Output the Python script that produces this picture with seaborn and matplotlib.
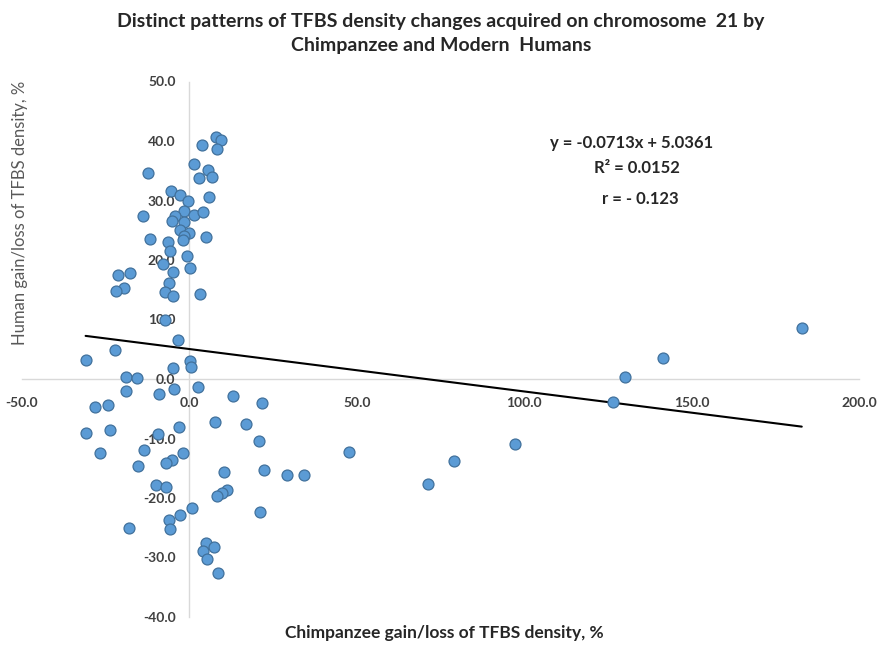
import matplotlib
matplotlib.use("Agg")
import matplotlib.pyplot as plt
import seaborn as sns
import numpy as np
import pandas as pd

# ---- data ----
chimp = [7.8, 9.3, 8.1, 3.8, -12.4, 1.5, 5.5, 6.8, 2.9, 5.8,
         -5.4, -2.9, -0.5, -13.9, -1.7, -4.4, 1.3, 4.0, -5.1, -1.5,
         -2.7, -0.2, -1.5, 4.9, -11.8, -6.5, -1.9, -5.7, -0.6, -7.9,
         0.3, -4.9, -21.4, -17.8, -6.2, -19.6, -21.9, -7.4, -4.9, 3.3,
         -7.4, -3.4, -22.3, -31.0, 0.3, 0.6, -4.9, -18.9, -15.6, 2.5,
         -4.7, -18.9, -9.0, 12.9, -28.1, -24.3, 7.5, -3.2, -31.0, -23.6,
         -9.3, -26.6, -13.6, -1.9, -5.2, -7.1, -15.3, 10.4, -9.9, -6.9,
         11.2, 9.6, 8.3, 0.8, -2.7, -6.2, -18.1, -5.7, 5.1, 7.3,
         4.1, 5.3, 8.6, 21.7, 17.0, 20.9, 47.6, 22.2, 29.2, 34.3,
         21.2, 182.9, 141.6, 130.1, 126.4, 97.3, 78.9, 71.2]
human = [40.6, 40.2, 38.7, 39.4, 34.6, 36.1, 35.1, 33.9, 33.7, 30.6,
         31.6, 30.9, 29.9, 27.4, 28.2, 27.4, 27.6, 28.0, 26.6, 26.4,
         25.0, 24.5, 24.0, 23.9, 23.5, 23.1, 23.3, 21.5, 20.7, 19.3,
         18.6, 18.0, 17.5, 17.8, 16.2, 15.3, 14.8, 14.6, 13.9, 14.3,
         10.0, 6.6, 4.9, 3.2, 3.0, 2.1, 1.8, 0.4, 0.1, -1.3,
         -1.7, -2.0, -2.5, -2.8, -4.7, -4.4, -7.3, -8.0, -9.0, -8.6,
         -9.3, -12.4, -12.0, -12.4, -13.6, -14.1, -14.6, -15.7, -17.8, -18.1,
         -18.7, -19.1, -19.7, -21.7, -22.9, -23.7, -25.0, -25.2, -27.5, -28.3,
         -28.9, -30.3, -32.6, -4.0, -7.6, -10.5, -12.2, -15.3, -16.1, -16.1,
         -22.4, 8.6, 3.6, 0.4, -3.8, -10.9, -13.8, -17.6]

slope = -0.0713
intercept = 5.0361
x_ticks = [-50, 0, 50, 100, 150, 200]
y_ticks = [-40, -30, -20, -10, 0, 10, 20, 30, 40, 50]

title = ("Distinct patterns of TFBS density changes acquired on chromosome  21 by\n"
         "Chimpanzee and Modern  Humans")
xlabel = "Chimpanzee gain/loss of TFBS density, %"
ylabel = "Human gain/loss of TFBS density, %"
eq_lines = ["y = -0.0713x + 5.0361", "R\u00b2 = 0.0152", "r = - 0.123"]

# ---- plot ----
sns.set_theme(style="white")
plt.rcParams["font.family"] = ["Lato", "DejaVu Sans"]

df = pd.DataFrame({"chimp": chimp, "human": human})

W, H = 882, 646
fig = plt.figure(figsize=(W / 100, H / 100), dpi=100)
ax = fig.add_axes([22 / W, 1 - 617 / H, (859 - 22) / W, (617 - 81.5) / H])

# trend line
xl = np.array([min(chimp), max(chimp)])
ax.plot(xl, slope * xl + intercept, color="black", lw=1.5, zorder=4)

sns.scatterplot(data=df, x="chimp", y="human", ax=ax, s=62,
                color="#5B9BD5", edgecolor="#41719C", linewidth=0.9, zorder=5)

ax.set_xlim(-50, 200)
ax.set_ylim(-40, 50)
ax.set_xticks(x_ticks)
ax.set_yticks(y_ticks)
ax.set_xticklabels([f"{v:.1f}" for v in x_ticks])
ax.set_yticklabels([f"{v:.1f}" for v in y_ticks])
ax.xaxis.set_zorder(3)
ax.yaxis.set_zorder(3)

for s in ["top", "right"]:
    ax.spines[s].set_visible(False)
ax.spines["left"].set_position(("data", 0))
ax.spines["bottom"].set_position(("data", 0))
for s in ["left", "bottom"]:
    ax.spines[s].set_color("#D9D9D9")
    ax.spines[s].set_linewidth(1.0)
    ax.spines[s].set_zorder(1)

ax.tick_params(axis="x", direction="out", length=5, width=1, color="#D9D9D9",
               pad=8, labelsize=10, labelcolor="#404040")
ax.tick_params(axis="y", direction="out", length=4, width=1, color="#D9D9D9",
               pad=6, labelsize=10, labelcolor="#404040")
for lab in ax.get_xticklabels() + ax.get_yticklabels():
    lab.set_fontweight("bold")

ax.set_xlabel("")
ax.set_ylabel("")
ax.set_facecolor("white")

fig.text(441 / W, 1 - 33 / H, title, ha="center", va="center", fontsize=14,
         fontweight="bold", color="#262626", linespacing=1.5)
fig.text(444 / W, 1 - 633 / H, xlabel, ha="center", va="center",
         fontsize=12.5, fontweight="bold", color="#262626")
fig.text(20 / W, 1 - 213 / H, ylabel, ha="center", va="center",
         rotation=90, fontsize=12, color="#595959")

for txt, (px, py) in zip(eq_lines, [(632, 143), (637, 168), (640, 199)]):
    fig.text(px / W, 1 - py / H, txt, ha="center", va="center",
             fontsize=12, fontweight="bold", color="#262626")

fig.savefig("out.png", dpi=100, facecolor="white")
